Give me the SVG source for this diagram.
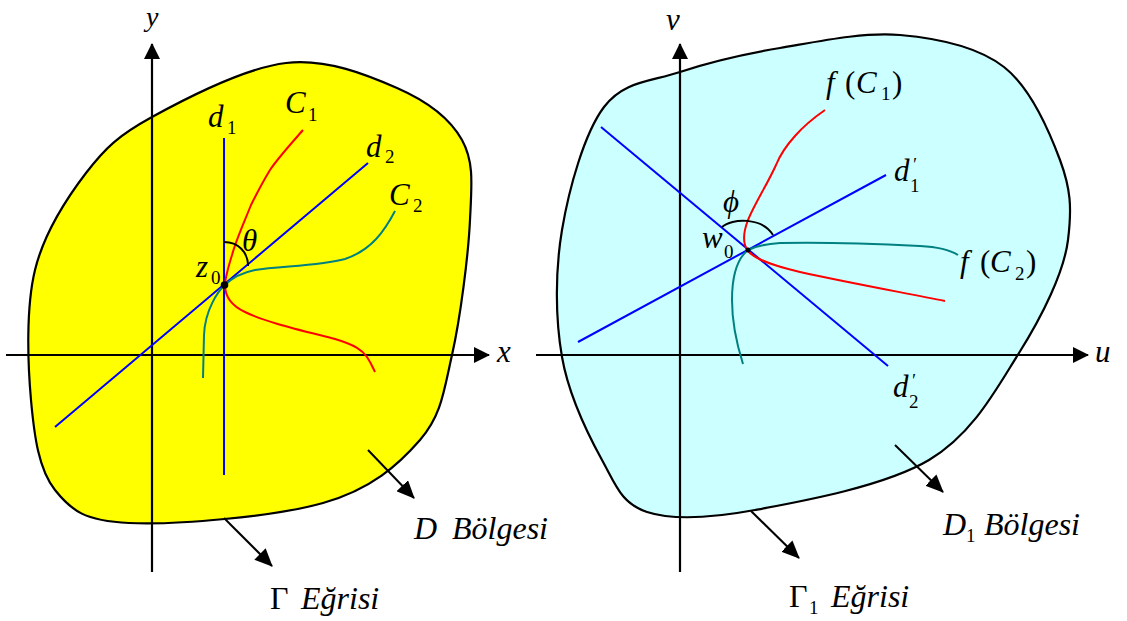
<svg xmlns="http://www.w3.org/2000/svg" width="1127" height="621" viewBox="0 0 1127 621">
<style>
.blob{stroke:#000;stroke-width:2.2}
.ax{stroke:#000;stroke-width:2.2;fill:none}
.bl{stroke:#0000FF;stroke-width:2;fill:none}
.rd{stroke:#FF0000;stroke-width:2;fill:none}
.tl{stroke:#008080;stroke-width:2;fill:none}
.arc{stroke:#000;stroke-width:2;fill:none}
.ar{stroke:#000;stroke-width:2;fill:none}
text{font-family:"Liberation Serif","Times New Roman",serif;fill:#000;font-size:31px}
.i{font-style:italic}
.n{font-style:normal}
.s{font-style:normal;font-size:19px}
.pr{font-style:italic;font-size:18px}
.lb{font-size:32px}
</style>
<defs>
<marker id="ah" markerUnits="userSpaceOnUse" markerWidth="18" markerHeight="16" refX="17" refY="8" orient="auto"><path d="M0,0 L18,8 L0,16 z" fill="#000"/></marker>
<marker id="axh" markerUnits="userSpaceOnUse" markerWidth="16" markerHeight="16" refX="15" refY="8" orient="auto"><path d="M0,0 L16,8 L0,16 z" fill="#000"/></marker>
</defs>

<!-- Left panel -->
<g id="region-D">
<path class="blob" fill="#FFFF00" d="M152,117 C185.3,98.7 245.2,67.8 286,63 C326.8,58.2 367.7,75.2 397,88 C426.3,100.8 449.8,118 462,140 C474.2,162 471.7,184.2 470,220 C468.3,255.8 460.3,318.3 452,355 C443.7,391.7 441.5,415.3 420,440 C398.5,464.7 371.5,489.2 323,503 C274.5,516.8 173.7,525.2 129,523 C84.3,520.8 71.3,510.5 55,490 C38.7,469.5 34.3,436.7 31,400 C27.7,363.3 25.8,307.8 35,270 C44.2,232.2 66.5,198.5 86,173 C105.5,147.5 118.7,135.3 152,117 Z"/>
</g>
<g id="axes-xy">
<line class="ax" x1="152" y1="572" x2="152" y2="44" marker-end="url(#axh)"/>
<line class="ax" x1="6" y1="355" x2="489" y2="355" marker-end="url(#axh)"/>
</g>
<g id="lines-d1-d2">
<line class="bl" x1="224" y1="138" x2="224" y2="475"/>
<line class="bl" x1="55" y1="427" x2="368" y2="163"/>
</g>
<g id="curve-C1">
<path class="rd" d="M303,130 C290,145 278,158 270,170 C262,183 256,195 251,205 C243,225 236,240 232,255 C228,268 225,278 225,285 C225,295 230,305 245,312 C265,322 300,330 335,339 C355,345 362,350 367,357 C371,363 373,368 375,372"/>
</g>
<g id="curve-C2">
<path class="tl" d="M395,211 C385,230 372,250 345,259 C320,266 280,266 255,270 C240,273 231,279 225,285 C218,291 205,310 204,335 L203,378"/>
</g>
<g id="angle-theta">
<path class="arc" d="M224,242 C238,242 248,252 248,266"/>
</g>
<g id="point-z0"><circle cx="224.5" cy="285" r="3.8" fill="#000"/></g>

<g id="labels-left">
<text class="i" x="146" y="26" style="font-size:28px">y</text>
<text class="i" x="497" y="362">x</text>
<text x="208" y="127"><tspan class="i">d</tspan><tspan class="s" x="227" y="134">1</tspan></text>
<text x="285" y="113"><tspan class="i">C</tspan><tspan class="s" x="308" y="121">1</tspan></text>
<text x="366" y="157"><tspan class="i">d</tspan><tspan class="s" x="385" y="163">2</tspan></text>
<text x="389" y="205"><tspan class="i">C</tspan><tspan class="s" x="413" y="212">2</tspan></text>
<text class="i" x="242" y="251">θ</text>
<text x="196" y="277"><tspan class="i">z</tspan><tspan class="s" x="211" y="284">0</tspan></text>
</g>

<!-- Right panel -->
<g id="region-D1">
<path class="blob" fill="#CCFFFF" d="M604,107 C623.7,80.7 650.7,81.8 680,72 C709.3,62.2 743.3,54.2 780,48 C816.7,41.8 862.7,31.8 900,35 C937.3,38.2 977.3,46.2 1004,67 C1030.7,87.8 1049.3,131.2 1060,160 C1070.7,188.8 1072,207.8 1068,240 C1064,272.2 1042.2,316.3 1019,353 C995.8,389.7 973,433.8 929,460 C885,486.2 802,501.3 755,510 C708,518.7 672.5,520.3 647,512 C621.5,503.7 616.2,485.8 602,460 C587.8,434.2 568.7,395.3 562,357 C555.3,318.7 555,271.7 562,230 C569,188.3 584.3,133.3 604,107 Z"/>
</g>
<g id="axes-uv">
<line class="ax" x1="680" y1="572" x2="680" y2="44" marker-end="url(#axh)"/>
<line class="ax" x1="536" y1="355" x2="1088" y2="355" marker-end="url(#axh)"/>
</g>
<g id="lines-d1p-d2p">
<line class="bl" x1="578" y1="342" x2="886" y2="175"/>
<line class="bl" x1="601" y1="127" x2="888" y2="366"/>
</g>
<g id="curve-fC1">
<path class="rd" d="M825,110 C812,119 802,128 795,136 C786,146 780,155 776,165 C768,183 755,203 748,220 C743,233 742,243 748,251 C755,259 770,265 800,272 C850,283 900,292 945,301"/>
</g>
<g id="curve-fC2">
<path class="tl" d="M958,255 C950,250 940,247 920,246 C880,244 820,242 780,243 C765,244 754,247 748,250 C738,258 732,275 732,300 C732,325 737,345 743,364"/>
</g>
<g id="angle-phi">
<path class="arc" d="M722,227 C732,218 762,217 773,235"/>
</g>
<g id="point-w0"><circle cx="748" cy="250" r="2.5" fill="#000"/></g>

<g id="labels-right">
<text class="i" x="666" y="30">v</text>
<text class="i" x="1095" y="362">u</text>
<text x="826" y="93"><tspan class="i">f</tspan><tspan class="n" x="845">(</tspan><tspan class="i" x="856">C</tspan><tspan class="s" x="881" y="100">1</tspan><tspan class="n" x="892" y="93">)</tspan></text>
<text x="894" y="181"><tspan class="i">d</tspan><tspan class="pr" x="912" y="171">′</tspan><tspan class="s" x="910" y="192">1</tspan></text>
<text x="893" y="397"><tspan class="i">d</tspan><tspan class="pr" x="911" y="387">′</tspan><tspan class="s" x="909" y="408">2</tspan></text>
<text class="i" x="723" y="212">ϕ</text>
<text x="702" y="248"><tspan class="i">w</tspan><tspan class="s" x="724" y="258">0</tspan></text>
<text x="960" y="272"><tspan class="i">f</tspan><tspan class="n" x="980">(</tspan><tspan class="i" x="990">C</tspan><tspan class="s" x="1015" y="280">2</tspan><tspan class="n" x="1026" y="272">)</tspan></text>
</g>

<!-- connectors to captions -->
<g id="connectors">
<line class="ar" x1="368" y1="450" x2="414" y2="498" marker-end="url(#ah)"/>
<line class="ar" x1="224" y1="518" x2="272" y2="566" marker-end="url(#ah)"/>
<line class="ar" x1="895" y1="445" x2="943" y2="492" marker-end="url(#ah)"/>
<line class="ar" x1="751" y1="511" x2="799" y2="558" marker-end="url(#ah)"/>
</g>

<g id="caption-D">
<text class="lb" x="414" y="539"><tspan class="i">D</tspan><tspan class="i" x="452">Bölgesi</tspan></text>
</g>
<g id="caption-Gamma">
<text class="lb" x="270" y="609"><tspan class="n">Γ</tspan><tspan class="i" x="301">Eğrisi</tspan></text>
</g>
<g id="caption-D1">
<text class="lb" x="943" y="535"><tspan class="i">D</tspan><tspan class="s" x="966" y="542">1</tspan><tspan class="i" x="984" y="535">Bölgesi</tspan></text>
</g>
<g id="caption-Gamma1">
<text class="lb" x="789" y="607"><tspan class="n">Γ</tspan><tspan class="s" x="809" y="614">1</tspan><tspan class="i" x="831" y="607">Eğrisi</tspan></text>
</g>
</svg>
